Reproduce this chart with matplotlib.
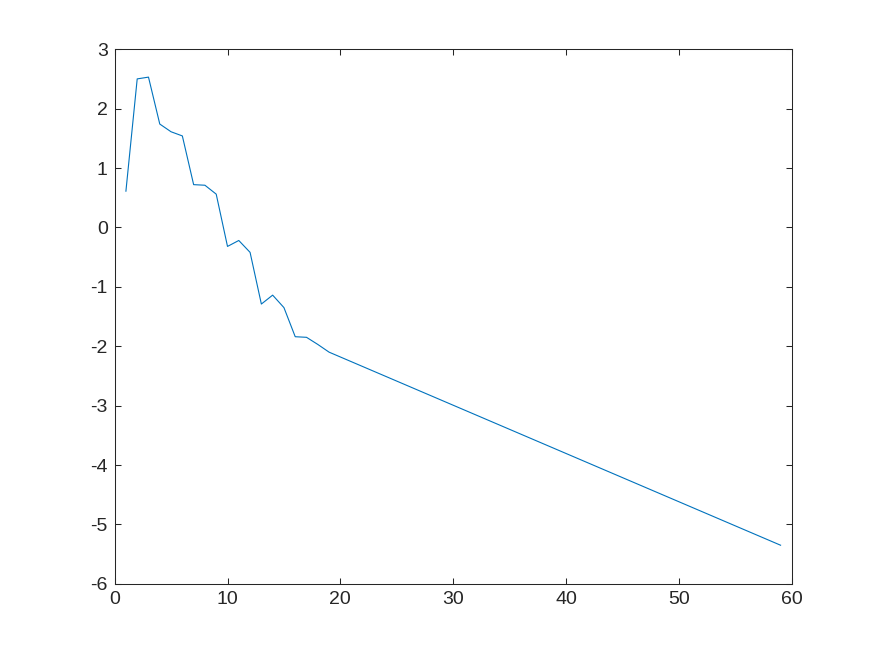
import numpy as np
import matplotlib
matplotlib.use('Agg')
import matplotlib.pyplot as plt

plt.rcParams['font.family'] = ['Liberation Sans', 'DejaVu Sans']
plt.rcParams['axes.unicode_minus'] = False

# data
x_vals = [1, 2, 3, 4, 5, 6, 7, 8, 9, 10, 11, 12, 13, 14, 15, 16, 17, 18, 19, 59]
y_vals = [0.61, 2.50, 2.53, 1.74, 1.61, 1.54, 0.72, 0.71, 0.56, -0.32,
          -0.22, -0.42, -1.29, -1.14, -1.35, -1.84, -1.85, -1.97, -2.10, -5.35]

x_ticks = [0, 10, 20, 30, 40, 50, 60]
y_ticks = [-6, -5, -4, -3, -2, -1, 0, 1, 2, 3]

fig = plt.figure(figsize=(8.75, 6.56), dpi=100)
ax = fig.add_axes([0.131, 0.110, 0.774, 0.815])

ax.plot(x_vals, y_vals, color='#0072BD', linewidth=0.8)

ax.set_xlim(0, 60)
ax.set_ylim(-6, 3)
ax.set_xticks(x_ticks)
ax.set_yticks(y_ticks)

for sp in ax.spines.values():
    sp.set_color('#262626')
    sp.set_linewidth(0.75)
ax.tick_params(direction='in', top=True, right=True, length=4.5, width=0.75,
               color='#262626', labelcolor='#262626', labelsize=14, pad=5)

fig.savefig('out.png', dpi=100)
